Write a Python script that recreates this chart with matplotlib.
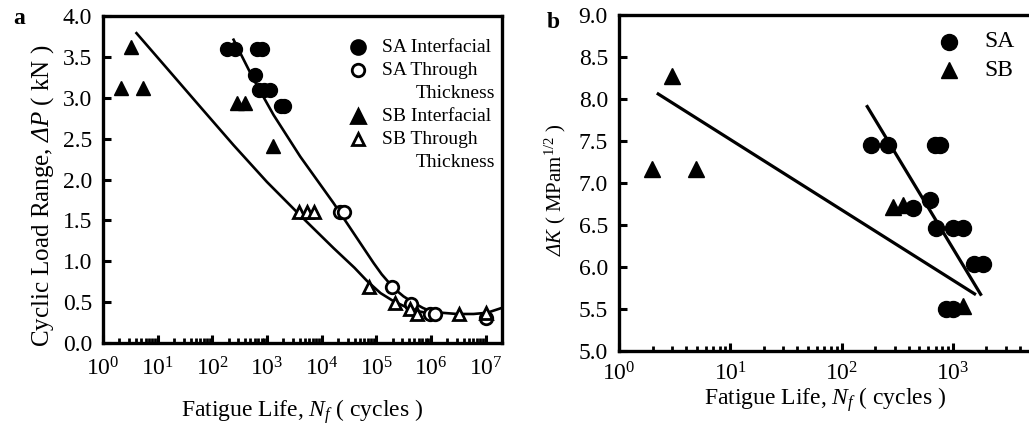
import numpy as np
import matplotlib
matplotlib.use('Agg')
import matplotlib.pyplot as plt
from matplotlib.ticker import LogLocator, MultipleLocator, NullFormatter

plt.rcParams['font.family'] = ['Liberation Serif', 'DejaVu Serif']
plt.rcParams['mathtext.fontset'] = 'custom'
plt.rcParams['mathtext.rm'] = 'Liberation Serif'
plt.rcParams['mathtext.it'] = 'Liberation Serif:italic'
plt.rcParams['mathtext.bf'] = 'Liberation Serif:bold'
# italic greek capitals (mathtext keeps them upright in \mathit)
plt.rcParams['mathtext.cal'] = 'Liberation Serif:italic'

########################################################
# panel a data: cyclic load range vs fatigue life
########################################################
sa_int_n = [186, 265, 660, 813, 615, 710, 900, 1150, 1780, 2040]
sa_int_p = [3.6, 3.6, 3.6, 3.6, 3.28, 3.1, 3.1, 3.1, 2.9, 2.9]

sa_thr_n = [22000, 25500, 195000, 435000, 980000, 1.2e6, 1.04e7]
sa_thr_p = [1.6, 1.6, 0.68, 0.48, 0.35, 0.36, 0.3]

sb_int_n = [2.1, 3.2, 5.4, 283, 400, 1300]
sb_int_p = [3.12, 3.62, 3.12, 2.93, 2.93, 2.41]

sb_thr_n = [3800, 5400, 7200, 73000, 224000, 420000, 560000, 3.2e6, 1e7]
sb_thr_p = [1.6, 1.6, 1.6, 0.68, 0.49, 0.41, 0.36, 0.36, 0.37]

# fitted curves
fit_sa_n = [245, 575, 1320, 4070, 16600, 38900, 89100, 126000, 209000,
            316000, 490000, 708000, 977000, 1.58e6, 3e6, 6.03e6, 1.07e7, 2e7]
fit_sa_p = [3.71, 3.22, 2.79, 2.28, 1.71, 1.34, 0.98, 0.84, 0.67,
            0.57, 0.49, 0.43, 0.39, 0.37, 0.355, 0.355, 0.37, 0.43]
fit_sb_n = [4.1, 14.8, 60, 245, 1000, 4070, 16600, 40000, 67600, 120000,
            209000, 350000, 562000, 1.12e6]
fit_sb_p = [3.79, 3.36, 2.89, 2.42, 1.97, 1.56, 1.16, 0.92, 0.76, 0.61,
            0.51, 0.44, 0.39, 0.355]

########################################################
# panel b data: stress intensity range vs fatigue life
########################################################
sa_n = [185, 262, 690, 760, 617, 434, 710, 1000, 1230, 1560, 1860, 870, 1000]
sa_k = [7.45, 7.45, 7.45, 7.45, 6.8, 6.7, 6.46, 6.46, 6.46, 6.03, 6.03, 5.5, 5.5]

sb_n = [1.96, 2.97, 4.9, 287, 353, 1230]
sb_k = [7.17, 8.27, 7.17, 6.72, 6.74, 5.53]

line_sa_n = [170, 1775]
line_sa_k = [7.91, 5.675]
line_sb_n = [2.25, 1566]
line_sb_k = [8.06, 5.68]

W, H = 1029, 429
fig = plt.figure(figsize=(W / 100, H / 100), dpi=100)

def style_axes(ax, spines_lw=2.4):
    for s in ax.spines.values():
        s.set_linewidth(spines_lw)
    ax.set_xscale('log')
    ax.xaxis.set_major_locator(LogLocator(base=10, numticks=20))
    ax.xaxis.set_minor_locator(LogLocator(base=10, subs=np.arange(2, 10), numticks=100))
    ax.xaxis.set_minor_formatter(NullFormatter())
    ax.tick_params(which='major', direction='in', length=6, width=2.2,
                   labelsize=17, top=False, right=False, pad=8)
    ax.tick_params(which='minor', direction='in', length=3.5, width=2.0,
                   top=False, right=False)
    ax.tick_params(axis='y', which='minor', left=False)

# ---------------- panel a ----------------
ax1 = fig.add_axes([103 / W, (H - 343) / H, 399 / W, 327 / H])
style_axes(ax1)
ax1.tick_params(axis='x', which='major', pad=10)
ax1.plot(fit_sa_n, fit_sa_p, color='black', lw=1.9, zorder=2)
ax1.plot(fit_sb_n, fit_sb_p, color='black', lw=1.9, zorder=2)
ms = 10
ax1.plot(sa_int_n, sa_int_p, 'o', ms=ms, color='black', ls='none', zorder=3)
ax1.plot(sa_thr_n, sa_thr_p, 'o', ms=ms - 1, mfc='white', mec='black', mew=2,
         ls='none', zorder=3)
ax1.plot(sb_int_n, sb_int_p, '^', ms=ms, color='black', ls='none', zorder=3)
ax1.plot(sb_thr_n, sb_thr_p, '^', ms=ms - 1, mfc='white', mec='black', mew=2,
         ls='none', zorder=3)
ax1.set_xlim(1, 2e7)
ax1.set_ylim(0, 4.0)
ax1.yaxis.set_major_locator(MultipleLocator(0.5))
ax1.yaxis.set_major_formatter(plt.FuncFormatter(lambda v, p: '%.1f' % v))
ax1.set_xlabel(r'Fatigue Life, $\mathit{N_f}$ ( cycles )', fontsize=17, labelpad=12)
ax1.set_ylabel(r'Cyclic Load Range, $\mathcal{Δ}\mathit{P}$ ( kN )', fontsize=18,
               labelpad=5)
ax1.yaxis.label.set_y(0.45)

# legend drawn by hand so markers line up with the first text line
leg_rows = [
    ('o', 'black', 'black', 'SA Interfacial', None),
    ('o', 'white', 'black', 'SA Through', 'Thickness'),
    ('^', 'black', 'black', 'SB Interfacial', None),
    ('^', 'white', 'black', 'SB Through', 'Thickness'),
]
y = 0.905
step = 23 / 327
for mk, fc, ec, l1, l2 in leg_rows:
    ax1.plot([0.639], [y], mk, ms=ms - (1 if fc == 'white' else 0), mfc=fc,
             mec=ec, mew=2, transform=ax1.transAxes, clip_on=False)
    ax1.text(0.699, y, l1, transform=ax1.transAxes, fontsize=14, va='center')
    y -= step
    if l2:
        ax1.text(0.784, y, l2, transform=ax1.transAxes, fontsize=14, va='center')
        y -= step

fig.text(19 / W, 1 - 19 / H, 'a', fontsize=17, fontweight='bold',
         ha='center', va='center')

# ---------------- panel b ----------------
ax2 = fig.add_axes([619 / W, (H - 351) / H, 412 / W, 336 / H])
style_axes(ax2)
ax2.spines['right'].set_visible(False)
ax2.plot(line_sb_n, line_sb_k, color='black', lw=2.3, zorder=2)
ax2.plot(line_sa_n, line_sa_k, color='black', lw=2.3, zorder=2)
ax2.plot(sa_n, sa_k, 'o', ms=11.5, color='black', ls='none', zorder=3)
ax2.plot(sb_n, sb_k, '^', ms=11.5, color='black', ls='none', zorder=3)
ax2.set_xlim(1, 10 ** (412 / 111.3))
ax2.set_ylim(5.0, 9.0)
ax2.yaxis.set_major_locator(MultipleLocator(0.5))
ax2.yaxis.set_major_formatter(plt.FuncFormatter(lambda v, p: '%.1f' % v))
ax2.set_xlabel(r'Fatigue Life, $\mathit{N_f}$ ( cycles )', fontsize=17, labelpad=0)
ax2.set_ylabel(r'$\mathcal{Δ}\mathit{K}$ ( MPam$^{1/2}$ )', fontsize=15, labelpad=8)
ax2.yaxis.label.set_y(0.48)

ax2.plot([0.80], [0.92], 'o', ms=11.5, color='black', transform=ax2.transAxes,
         clip_on=False)
ax2.text(0.888, 0.92, 'SA', transform=ax2.transAxes, fontsize=17, va='center')
ax2.plot([0.80], [0.836], '^', ms=11.5, color='black', transform=ax2.transAxes,
         clip_on=False)
ax2.text(0.888, 0.836, 'SB', transform=ax2.transAxes, fontsize=17, va='center')

fig.text(553 / W, 1 - 22 / H, 'b', fontsize=17, fontweight='bold',
         ha='center', va='center')

fig.savefig('out.png', dpi=100)
